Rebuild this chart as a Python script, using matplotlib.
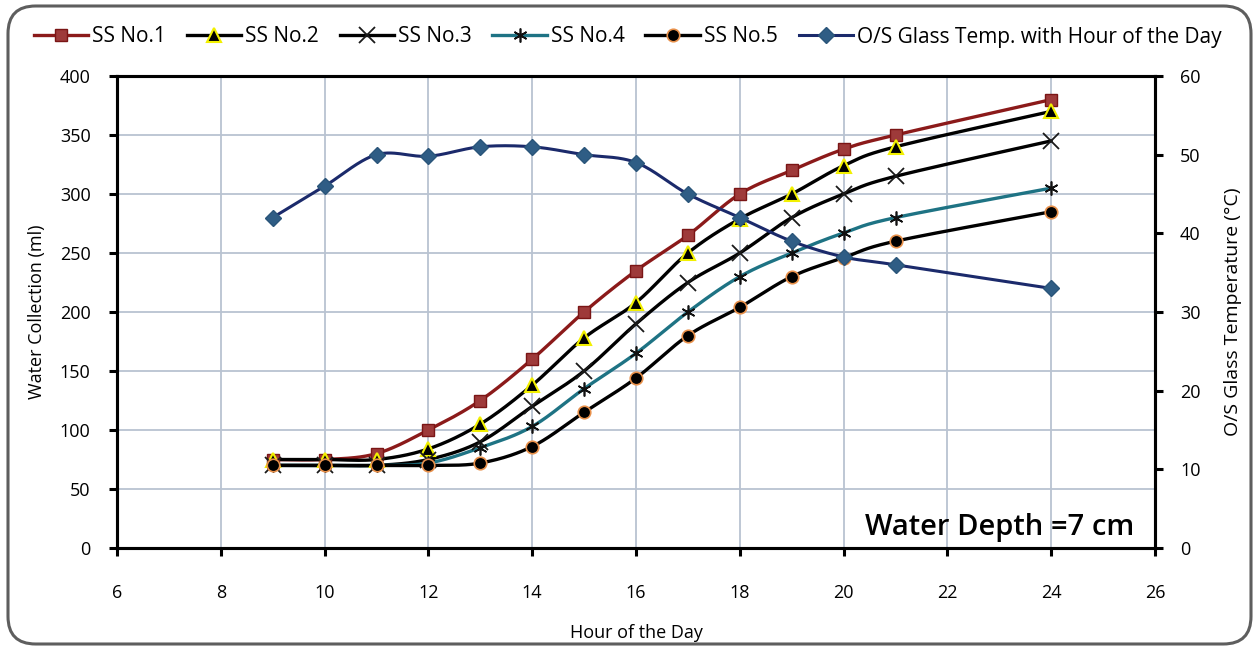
import numpy as np
import matplotlib
matplotlib.use("Agg")
import matplotlib.pyplot as plt
from matplotlib.lines import Line2D
from matplotlib.patches import FancyBboxPatch

plt.rcParams['font.family'] = ['Open Sans', 'DejaVu Sans']

# Hour of the day
hours = [9, 10, 11, 12, 13, 14, 15, 16, 17, 18, 19, 20, 21, 24]

# Water collection (ml) for each solar still
ss1 = [75, 75, 80, 100, 125, 160, 200, 235, 265, 300, 320, 338, 350, 380]
ss2 = [75, 75, 75, 84, 105, 138, 178, 208, 250, 279, 300, 324, 340, 370]
ss3 = [70, 70, 70, 75, 90, 120, 150, 190, 225, 250, 280, 300, 315, 345]
ss4 = [70, 70, 70, 72, 85, 103, 135, 165, 200, 230, 250, 267, 280, 305]
ss5 = [70, 70, 70, 70, 72, 86, 115, 144, 180, 204, 230, 246, 260, 285]

# Outside glass temperature (°C)
glass_temp = [42, 46, 50, 49.8, 51, 51, 50, 49, 45, 42, 39, 37, 36, 33]

legend_labels = ["SS No.1", "SS No.2", "SS No.3", "SS No.4", "SS No.5",
                 "O/S Glass Temp. with Hour of the Day"]


def smooth(x, y, n=30):
    """Bezier smoothing through every point (tension 1/6)."""
    x = np.asarray(x, float)
    y = np.asarray(y, float)
    pts = np.column_stack([x, y])
    out = []
    m = len(pts)
    t = np.linspace(0, 1, n)[:, None]
    for i in range(m - 1):
        p0 = pts[i]
        p3 = pts[i + 1]
        prev = pts[i - 1] if i > 0 else pts[i]
        nxt = pts[i + 2] if i + 2 < m else pts[i + 1]
        p1 = p0 + (p3 - prev) / 6.0
        p2 = p3 - (nxt - p0) / 6.0
        seg = ((1 - t) ** 3) * p0 + 3 * ((1 - t) ** 2) * t * p1 \
            + 3 * (1 - t) * t ** 2 * p2 + t ** 3 * p3
        out.append(seg if i == 0 else seg[1:])
    c = np.vstack(out)
    return c[:, 0], c[:, 1]


fig = plt.figure(figsize=(12.55, 6.48), dpi=100)
ax = fig.add_axes([117 / 1255, 1 - 548 / 648, (1155 - 117) / 1255, (548 - 76) / 648])

grid_c = "#B9C3D1"
series = [
    (ss1, "#8B1A1A", dict(marker="s", ms=8, mfc="#9E3A3A", mec="#7A1515", mew=1)),
    (ss2, "#000000", dict(marker="^", ms=10, mfc="#000000", mec="#F2F000", mew=1.5)),
    (ss3, "#000000", dict(marker="x", ms=12, mfc="#000000", mec="#1A1A1A", mew=1.3)),
    (ss4, "#1E7384", dict(marker=(6, 2, 0), ms=10, mfc="#000000", mec="#111111", mew=1.2)),
    (ss5, "#000000", dict(marker="o", ms=9, mfc="#000000", mec="#E8904A", mew=1.2)),
]

handles = []
for vals, col, mk in series:
    sx, sy = smooth(hours, vals)
    ax.plot(sx, sy, color=col, lw=2.4, zorder=3, solid_capstyle="round")
    ax.plot(hours, vals, ls="none", zorder=4, **mk)
    handles.append(Line2D([], [], color=col, lw=2.4, **mk))

ax.set_xlim(6, 26)
ax.set_ylim(0, 400)
ax.set_xticks(np.arange(6, 27, 2))
ax.set_yticks(np.arange(0, 401, 50))
ax.grid(True, color=grid_c, lw=1.3, zorder=0)
ax.set_axisbelow(True)
for s in ax.spines.values():
    s.set_linewidth(2.2)
    s.set_color("black")
ax.tick_params(axis="both", direction="out", length=6, width=2.2, labelsize=13)
ax.tick_params(axis="x", pad=20)
ax.tick_params(axis="y", pad=13)
ax.set_ylabel("Water Collection (ml)", fontsize=13, labelpad=10)
ax.set_xlabel("Hour of the Day", fontsize=13, labelpad=16)

ax2 = ax.twinx()
tx, ty = smooth(hours, glass_temp)
ax2.plot(tx, ty, color="#1B2A6B", lw=2.2, zorder=5)
ax2.plot(hours, glass_temp, ls="none", marker="D", ms=8, mfc="#2F5D85", mec="#2A557A", zorder=6)
handles.append(Line2D([], [], color="#1B2A6B", lw=2.2, marker="D", ms=8,
                      mfc="#2F5D85", mec="#2A557A"))
ax2.set_ylim(0, 60)
ax2.set_yticks(np.arange(0, 61, 10))
ax2.tick_params(axis="y", direction="out", length=6, width=2.2, labelsize=13, pad=12)
ax2.set_ylabel("O/S Glass Temperature (°C)", fontsize=14, labelpad=17)
for s in ax2.spines.values():
    s.set_linewidth(2.2)

ax.text(0.98, 0.028, "Water Depth =7 cm", transform=ax.transAxes, ha="right",
        va="baseline", fontsize=21, fontweight="semibold", zorder=7)

fig.legend(handles, legend_labels, loc="center", bbox_to_anchor=(0.5, 1 - 37 / 648),
           ncol=6, frameon=False, fontsize=15, handlelength=2.6, handletextpad=0.2,
           columnspacing=1.0, borderaxespad=0)

frame = FancyBboxPatch((8 / 1255, 4 / 648), 1243 / 1255, 638 / 648,
                       boxstyle="round,pad=0,rounding_size=0.022",
                       transform=fig.transFigure, fill=False, ec="#5E5E5E", lw=2.2,
                       mutation_aspect=1255 / 648)
fig.patches.append(frame)

fig.savefig("out.png", dpi=100)
